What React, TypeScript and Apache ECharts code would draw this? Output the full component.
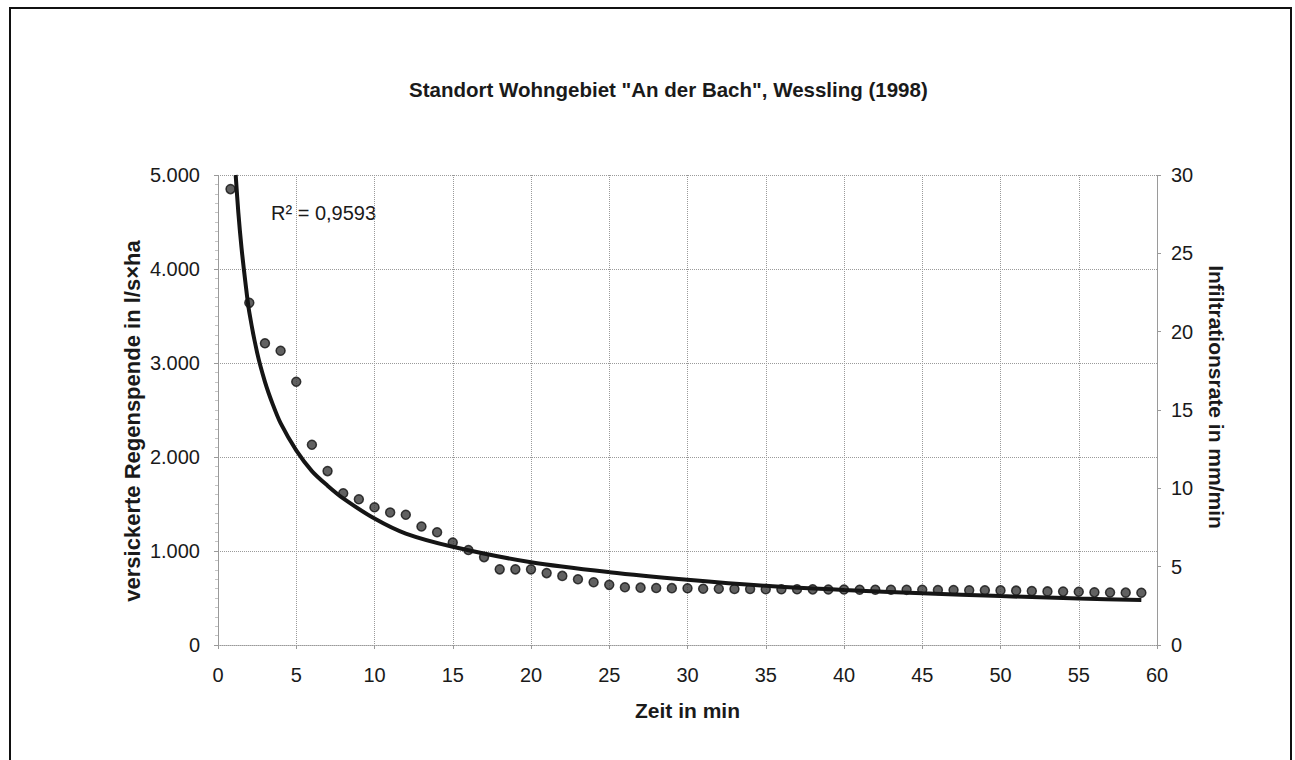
import React, { useEffect, useRef } from "react";
import * as echarts from "echarts";

const chartTitle = 'Standort Wohngebiet "An der Bach", Wessling (1998)';
const xAxisTitle = "Zeit in min";
const leftAxisTitle = "versickerte Regenspende in l/s×ha";
const rightAxisTitle = "Infiltrationsrate in mm/min";
const rSquaredLabel = "R² = 0,9593";

// measured points (time in min, rate in l/s×ha)
const measuredTimes = [
  0.8, 2, 3, 4, 5, 6, 7, 8, 9, 10, 11, 12, 13, 14, 15, 16, 17, 18, 19, 20,
  21, 22, 23, 24, 25, 26, 27, 28, 29, 30, 31, 32, 33, 34, 35, 36, 37, 38, 39, 40,
  41, 42, 43, 44, 45, 46, 47, 48, 49, 50, 51, 52, 53, 54, 55, 56, 57, 58, 59,
];
const measuredValues = [
  4850, 3640, 3210, 3130, 2800, 2130, 1850, 1615, 1550, 1465, 1410, 1385, 1260, 1200, 1090, 1010, 935, 805, 805, 805,
  765, 735, 700, 668, 640, 615, 610, 606, 605, 603, 599, 598, 596, 595, 594, 593, 593, 592, 590, 590,
  588, 588, 588, 587, 587, 585, 584, 583, 582, 581, 578, 575, 570, 568, 566, 560, 558, 557, 556,
];

// trend line
const trendTimes = [1.13, 1.3, 1.5, 1.75, 2, 2.5, 3, 3.5, 4, 5, 6, 7, 8, 10, 12, 15, 20, 25, 30, 35, 40, 45, 50, 55, 59];
const trendValues = [5000, 4600, 4230, 3860, 3540, 3110, 2800, 2560, 2360, 2070, 1850, 1695, 1560, 1345, 1185, 1045, 880, 775, 695, 630, 585, 550, 520, 495, 479];

const FONT = "'Liberation Sans', Arial, sans-serif";
const GRID_COLOR = "#9a9a9a";
const TEXT_COLOR = "#1a1a1a";

export default function App() {
  const ref = useRef<HTMLDivElement>(null);

  useEffect(() => {
    if (!ref.current) return;
    const chart = echarts.init(ref.current, null, { renderer: "svg" });
    const scatterData = measuredTimes.map((t, i) => [t, measuredValues[i]]);
    const trendData = trendTimes.map((t, i) => [t, trendValues[i]]);

    chart.setOption({
      animation: false,
      backgroundColor: "#ffffff",
      textStyle: { fontFamily: FONT },
      title: {
        text: chartTitle,
        left: 404,
        top: 74,
        textStyle: { fontFamily: FONT, fontSize: 20.5, fontWeight: "bold", color: TEXT_COLOR },
      },
      grid: { left: 218, right: 138, top: 175, bottom: 115 },
      xAxis: {
        type: "value",
        min: 0,
        max: 60,
        interval: 5,
        name: xAxisTitle,
        nameLocation: "middle",
        nameGap: 55,
        nameTextStyle: { fontFamily: FONT, fontSize: 21, fontWeight: "bold", color: TEXT_COLOR },
        axisLine: { show: true, lineStyle: { color: GRID_COLOR, type: "dotted", width: 1 } },
        axisTick: { show: true, length: 4, lineStyle: { color: GRID_COLOR } },
        axisLabel: { fontFamily: FONT, fontSize: 20, color: TEXT_COLOR, margin: 20 },
        splitLine: { show: true, lineStyle: { color: GRID_COLOR, type: "dotted", width: 1 } },
      },
      yAxis: [
        {
          type: "value",
          min: 0,
          max: 5000,
          interval: 1000,
          position: "left",
          axisLine: { show: true, lineStyle: { color: GRID_COLOR, type: "dotted", width: 1 } },
          axisTick: { show: true, length: 4, lineStyle: { color: GRID_COLOR } },
          minorTick: { show: true, splitNumber: 10, length: 3, lineStyle: { color: "#c4c4c4" } },
          axisLabel: {
            fontFamily: FONT,
            fontSize: 20,
            color: TEXT_COLOR,
            margin: 18,
            formatter: (v: number) => (v >= 1000 ? `${Math.floor(v / 1000)}.${String(v % 1000).padStart(3, "0")}` : `${v}`),
          },
          splitLine: { show: true, lineStyle: { color: GRID_COLOR, type: "dotted", width: 1 } },
        },
        {
          type: "value",
          min: 0,
          max: 30,
          interval: 5,
          position: "right",
          axisLine: { show: true, lineStyle: { color: GRID_COLOR, type: "dotted", width: 1 } },
          axisTick: { show: true, length: 4, lineStyle: { color: GRID_COLOR } },
          axisLabel: { fontFamily: FONT, fontSize: 20, color: TEXT_COLOR, margin: 14 },
          splitLine: { show: false },
        },
      ],
      graphic: [
        {
          type: "rect",
          shape: { x: 10, y: 8, width: 1281, height: 800 },
          style: { fill: "none", stroke: "#111", lineWidth: 2 },
          silent: true,
          z: 100,
        },
        {
          type: "text",
          left: 271,
          top: 203,
          style: { text: rSquaredLabel, fontFamily: FONT, fontSize: 20, fill: TEXT_COLOR },
        },
        {
          type: "text",
          x: 132,
          y: 421,
          rotation: Math.PI / 2,
          style: {
            text: leftAxisTitle,
            fontFamily: FONT,
            fontSize: 22,
            fontWeight: "bold",
            fill: TEXT_COLOR,
            align: "center",
            verticalAlign: "middle",
          },
        },
        {
          type: "text",
          x: 1216,
          y: 397,
          rotation: -Math.PI / 2,
          style: {
            text: rightAxisTitle,
            fontFamily: FONT,
            fontSize: 21,
            fontWeight: "bold",
            fill: TEXT_COLOR,
            align: "center",
            verticalAlign: "middle",
          },
        },
      ],
      series: [
        {
          type: "scatter",
          yAxisIndex: 0,
          data: scatterData,
          symbol: "circle",
          symbolSize: 9,
          itemStyle: { color: "#3a3a3a", borderColor: "#111", borderWidth: 1.5 },
          z: 2,
        },
        {
          type: "line",
          yAxisIndex: 0,
          data: trendData,
          smooth: 0.3,
          showSymbol: false,
          symbol: "none",
          lineStyle: { color: "#151515", width: 4 },
          z: 3,
        },
      ],
    });

    return () => chart.dispose();
  }, []);

  return <div ref={ref} style={{ position: "absolute", left: 0, top: 0, width: 1295, height: 760 }} />;
}
